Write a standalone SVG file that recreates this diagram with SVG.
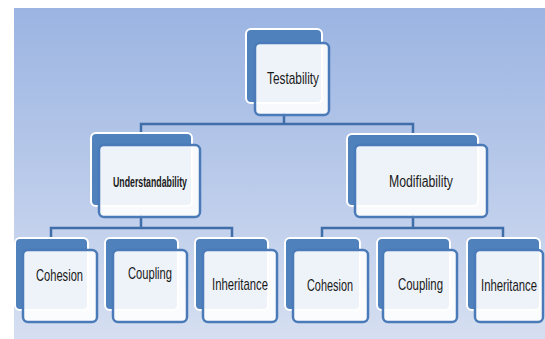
<svg xmlns="http://www.w3.org/2000/svg" width="545" height="339" viewBox="0 0 545 339">
<defs>
<linearGradient id="bg" x1="0" y1="0" x2="0" y2="1">
<stop offset="0" stop-color="#9bb4e2"/>
<stop offset="1" stop-color="#d6dff1"/>
</linearGradient>
</defs>
<style>
.back{fill:#4f81bd;stroke:#ffffff;stroke-width:2}
.front{fill:#ffffff;fill-opacity:0.9;stroke:#4a7ab8;stroke-width:2.5}
.conn{fill:none;stroke:#3f6ea8;stroke-width:2.5}
text{font-family:"Liberation Sans Narrow","Liberation Sans",Arial,sans-serif;fill:#1a1a1a}
.t{font-size:17px}
.m{font-size:16px}
.u{font-size:14px;font-weight:bold}
</style>
<rect x="0" y="0" width="545" height="339" fill="#ffffff"/>
<rect x="14" y="8" width="531" height="331" fill="url(#bg)"/>
<g id="connectors">
<path class="conn" d="M284 112 V124 M141 133 V124 H413 V134"/>
<path class="conn" d="M141 214 V228 M51 238 V228 H232 V238"/>
<path class="conn" d="M413 214 V228 M322 238 V228 H503 V238"/>
</g>
<g id="testability">
<rect class="back" x="246" y="29" width="76" height="74" rx="5"/>
<rect class="front" x="255" y="43" width="74" height="72" rx="5"/>
<text class="t" x="267" y="84" textLength="52" lengthAdjust="spacingAndGlyphs">Testability</text>
</g>
<g id="understandability">
<rect class="back" x="91" y="133" width="101" height="73" rx="5"/>
<rect class="front" x="99" y="145" width="101" height="72" rx="5"/>
<text class="u" x="113" y="187" textLength="74" lengthAdjust="spacingAndGlyphs">Understandability</text>
</g>
<g id="modifiability">
<rect class="back" x="347" y="134" width="131" height="72" rx="5"/>
<rect class="front" x="355" y="145" width="132" height="72" rx="5"/>
<text class="m" x="389" y="187" textLength="64" lengthAdjust="spacingAndGlyphs">Modifiability</text>
</g>
<g id="cohesion1">
<rect class="back" x="15" y="238" width="73" height="72" rx="5"/>
<rect class="front" x="23" y="250" width="74" height="72" rx="5"/>
<text class="t" x="36" y="281" textLength="47" lengthAdjust="spacingAndGlyphs">Cohesion</text>
</g>
<g id="coupling1">
<rect class="back" x="105" y="238" width="73" height="72" rx="5"/>
<rect class="front" x="113" y="250" width="74" height="72" rx="5"/>
<text class="t" x="128" y="279" textLength="44" lengthAdjust="spacingAndGlyphs">Coupling</text>
</g>
<g id="inheritance1">
<rect class="back" x="195" y="238" width="73" height="72" rx="5"/>
<rect class="front" x="203" y="250" width="74" height="72" rx="5"/>
<text class="t" x="212" y="290" textLength="56" lengthAdjust="spacingAndGlyphs">Inheritance</text>
</g>
<g id="cohesion2">
<rect class="back" x="285" y="238" width="75" height="72" rx="5"/>
<rect class="front" x="293" y="250" width="75" height="72" rx="5"/>
<text class="t" x="307" y="291" textLength="46" lengthAdjust="spacingAndGlyphs">Cohesion</text>
</g>
<g id="coupling2">
<rect class="back" x="377" y="238" width="73" height="72" rx="5"/>
<rect class="front" x="383" y="250" width="74" height="72" rx="5"/>
<text class="t" x="398" y="290" textLength="45" lengthAdjust="spacingAndGlyphs">Coupling</text>
</g>
<g id="inheritance2">
<rect class="back" x="467" y="238" width="73" height="72" rx="5"/>
<rect class="front" x="475" y="250" width="68" height="72" rx="5"/>
<text class="t" x="481" y="291" textLength="56" lengthAdjust="spacingAndGlyphs">Inheritance</text>
</g>
</svg>
